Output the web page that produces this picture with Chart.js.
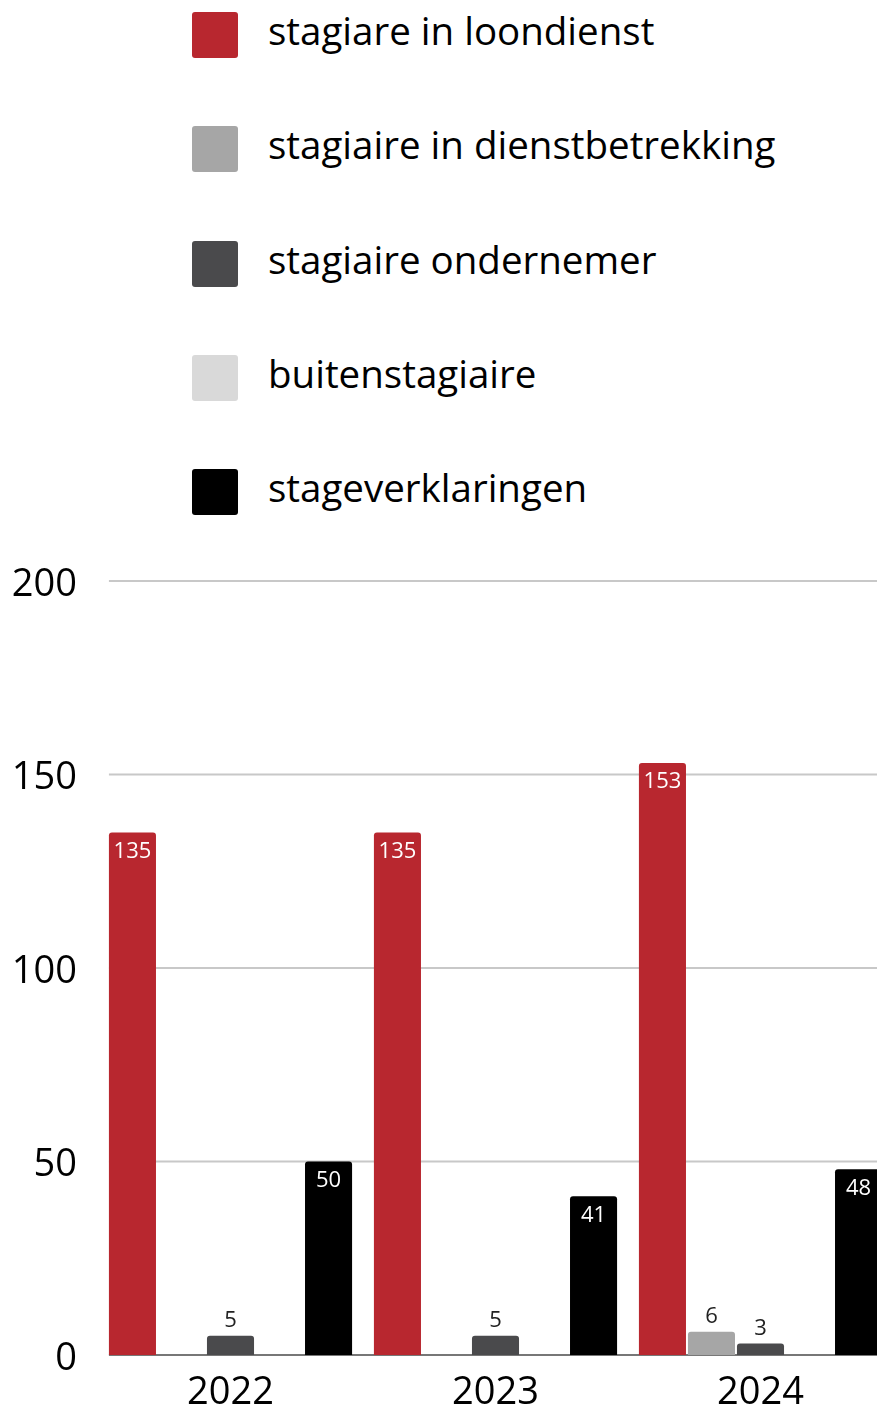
<!DOCTYPE html>
<html>
<head>
<meta charset="utf-8">
<script src="https://cdn.jsdelivr.net/npm/chart.js@4.4.1/dist/chart.umd.min.js"></script>
<style>
  html, body { margin: 0; padding: 0; background: #fff; width: 877px; height: 1409px; overflow: hidden; }
  body { position: relative; font-family: "Open Sans", sans-serif; }
  #legend { position: absolute; left: 192px; top: 0; }
  .lg-item { position: absolute; left: 0; display: flex; align-items: center; height: 46px; white-space: nowrap; }
  .lg-box { width: 46px; height: 46px; border-radius: 3px; margin-right: 30px; flex: none; }
  .lg-text { font-size: 38.5px; color: #000; position: relative; top: -5px; }
  #wrap { position: absolute; left: 0; top: 0; width: 893px; height: 1409px; }
</style>
</head>
<body>
<div id="legend"></div>
<div id="wrap"><canvas id="cv"></canvas></div>
<script>
// jaren (categorieën)
const years = ['2022', '2023', '2024'];

// reeksen
const seriesLabels = ['stagiare in loondienst', 'stagiaire in dienstbetrekking', 'stagiaire ondernemer', 'buitenstagiaire', 'stageverklaringen'];
const seriesColors = ['#b8272f', '#a6a6a6', '#4a4a4c', '#d9d9d9', '#000000'];

const loondienst        = [135, 135, 153];
const dienstbetrekking  = [0, 0, 6];
const ondernemer        = [5, 5, 3];
const buitenstagiaire   = [0, 0, 0];
const stageverklaringen = [50, 41, 48];

const yTicks = [0, 50, 100, 150, 200];

const seriesData = [loondienst, dienstbetrekking, ondernemer, buitenstagiaire, stageverklaringen];

// legenda (html, verticaal)
const lg = document.getElementById('legend');
seriesLabels.forEach((lab, i) => {
  const it = document.createElement('div');
  it.className = 'lg-item';
  it.style.top = (12 + i * 114.3) + 'px';
  it.innerHTML = `<div class="lg-box" style="background:${seriesColors[i]}"></div><div class="lg-text">${lab}</div>`;
  lg.appendChild(it);
});

// rasterlijnen vanaf de eerste balk
const gridPlugin = {
  id: 'gridLines',
  beforeDatasetsDraw(chart) {
    const { ctx, chartArea, scales } = chart;
    const first = chart.getDatasetMeta(0).data[0];
    const x0 = first.x - first.width / 2;
    ctx.save();
    yTicks.forEach(v => {
      const y = scales.y.getPixelForValue(v);
      ctx.beginPath();
      ctx.moveTo(x0, y); ctx.lineTo(chartArea.right, y);
      ctx.strokeStyle = v === 0 ? '#777777' : '#c8c8c8';
      ctx.lineWidth = 2;
      ctx.stroke();
    });
    ctx.restore();
  }
};

// waardelabels
const labelPlugin = {
  id: 'valueLabels',
  afterDatasetsDraw(chart) {
    const { ctx } = chart;
    ctx.save();
    ctx.font = '22px "Open Sans", sans-serif';
    ctx.textAlign = 'center';
    ctx.textBaseline = 'middle';
    chart.data.datasets.forEach((ds, di) => {
      chart.getDatasetMeta(di).data.forEach((bar, i) => {
        const v = ds.data[i];
        if (!v) return;
        const h = bar.base - bar.y;
        if (h > 40) { ctx.fillStyle = '#ffffff'; ctx.fillText(v, bar.x, bar.y + 19); }
        else        { ctx.fillStyle = '#222222'; ctx.fillText(v, bar.x, bar.y - 15); }
      });
    });
    ctx.restore();
  }
};

new Chart(document.getElementById('cv'), {
  type: 'bar',
  data: {
    labels: years,
    datasets: seriesLabels.map((lab, i) => ({
      label: lab,
      data: seriesData[i],
      backgroundColor: seriesColors[i],
      borderRadius: 3,
      borderSkipped: 'bottom',
      categoryPercentage: 0.925,
      barPercentage: 0.96,
    })),
  },
  options: {
    responsive: true,
    maintainAspectRatio: false,
    animation: false,
    layout: { padding: { top: 581, left: 0, right: 0, bottom: 0 } },
    plugins: { legend: { display: false }, tooltip: { enabled: false } },
    scales: {
      x: {
        grid: { display: false, drawTicks: false },
        border: { display: false },
        ticks: { color: '#000', font: { size: 38, family: '"Open Sans", sans-serif' }, padding: 15 },
        afterFit: s => { s.height = 54; },
      },
      y: {
        min: 0, max: 200,
        afterBuildTicks: s => { s.ticks = yTicks.map(v => ({ value: v })); },
        grid: { display: false, drawTicks: false },
        border: { display: false },
        ticks: { color: '#000', font: { size: 38, family: '"Open Sans", sans-serif' }, padding: 21, labelOffset: 4 },
        afterFit: s => { s.width = 98; },
      },
    },
  },
  plugins: [gridPlugin, labelPlugin],
});
</script>
</body>
</html>
